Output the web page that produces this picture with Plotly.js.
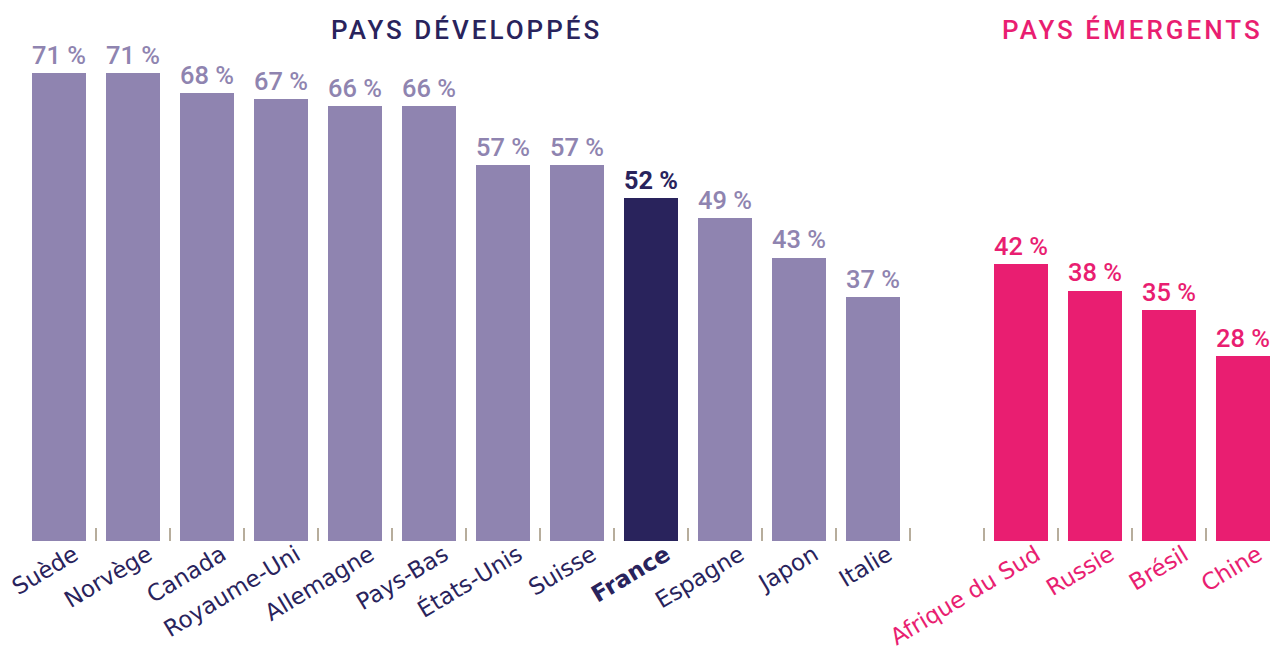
<!DOCTYPE html>
<html>
<head>
<meta charset="utf-8">
<script src="https://cdn.plot.ly/plotly-3.0.1.min.js"></script>
<style>html,body{margin:0;padding:0;background:#fff;}#chart{width:1279px;height:650px;}</style>
</head>
<body>
<div id="chart"></div>
<script>
// ---- data ----
const developedCountries = ["Suède","Norvège","Canada","Royaume-Uni","Allemagne","Pays-Bas","États-Unis","Suisse","France","Espagne","Japon","Italie"];
const developedValues   = [71,71,68,67,66,66,57,57,52,49,43,37];
const emergingCountries = ["Afrique du Sud","Russie","Brésil","Chine"];
const emergingValues    = [42,38,35,28];
const highlightCountry  = "France";
const groupTitles = ["PAYS DÉVELOPPÉS","PAYS ÉMERGENTS"];

// ---- styles ----
const LAV = "#8f84b0", NAVY = "#29235c", PINK = "#e91e71", TICK = "#b7ad9c";

// positions: one empty slot between groups
const devX = developedCountries.map((c,i)=>i);
const emX  = emergingCountries.map((c,i)=>developedCountries.length + 1 + i);
const nSlots = developedCountries.length + 1 + emergingCountries.length;

const devColors = developedCountries.map(c => c===highlightCountry ? NAVY : LAV);
const devText = developedValues.map((v,i)=> developedCountries[i]===highlightCountry ? "<b>"+v+" %</b>" : v+" %");

const valueFont = {family:"Roboto", size:28, weight:500};

const traces = [
  {type:"bar", x:devX, y:developedValues, width:0.73, marker:{color:devColors},
   text:devText, texttemplate:"%{text}", textposition:"outside", cliponaxis:false,
   textfont:Object.assign({}, valueFont, {color:devColors}), hoverinfo:"skip"},
  {type:"bar", x:emX, y:emergingValues, width:0.73, marker:{color:PINK},
   text:emergingValues.map(v=>v+" %"), texttemplate:"%{text}", textposition:"outside", cliponaxis:false,
   textfont:Object.assign({}, valueFont, {color:PINK}), hoverinfo:"skip"},
  // invisible trace on the label axis
  {type:"scatter", x:[0], y:[0], xaxis:"x2", mode:"markers", marker:{opacity:0}, hoverinfo:"skip", showlegend:false}
];

const boundaries = [];
for (let k=0;k<nSlots-1;k++) boundaries.push(k+0.5);

const labelVals = devX.concat(emX);
const labelText = developedCountries.map(c => c===highlightCountry ? "<b>"+c+"</b>" : c)
  .concat(emergingCountries.map(c => '<span style="color:'+PINK+'">'+c+'</span>'));

const range = [-59/74, (1279-59)/74];
const devMid = (devX[0]+devX[devX.length-1])/2;
const emMid = (emX[0]+emX[emX.length-1])/2;

const layout = {
  width:1279, height:650,
  margin:{l:0,r:0,t:20,b:109},
  paper_bgcolor:"#fff", plot_bgcolor:"#fff",
  showlegend:false, bargap:0,
  xaxis:{range:range, showgrid:false, zeroline:false, showline:false,
         tickmode:"array", tickvals:boundaries, ticktext:boundaries.map(()=>""),
         ticks:"inside", ticklen:13, tickwidth:1.5, tickcolor:TICK, fixedrange:true},
  xaxis2:{overlaying:"x", matches:"x", anchor:"y", side:"bottom", showgrid:false, zeroline:false, showline:false,
          tickmode:"array", tickvals:labelVals, ticktext:labelText, tickangle:-31, ticks:"",
          ticklabelshift:15, ticklabelstandoff:-5, ticklabeloverflow:"allow",
          tickfont:{family:"DejaVu Sans", size:23, color:NAVY}},
  yaxis:{range:[0,521/6.59], visible:false, fixedrange:true},
  annotations:[
    {text:'<span style="letter-spacing:3px">'+groupTitles[0]+'</span>', x:devMid, y:30, xref:"x", yref:"paper",
     yanchor:"middle", xanchor:"center", showarrow:false, font:{family:"Roboto", size:26, weight:500, color:NAVY}},
    {text:'<span style="letter-spacing:3px">'+groupTitles[1]+'</span>', x:emMid, y:30, xref:"x", yref:"paper",
     yanchor:"middle", xanchor:"center", showarrow:false, font:{family:"Roboto", size:26, weight:500, color:PINK}}
  ]
};
// convert title y (pixel 30 from top) to paper coordinate
const plotH = 650-20-109;
layout.annotations.forEach(a=>{ a.y = (650-109-30)/plotH; });

Plotly.newPlot("chart", traces, layout, {displayModeBar:false, staticPlot:true});
</script>
</body>
</html>
